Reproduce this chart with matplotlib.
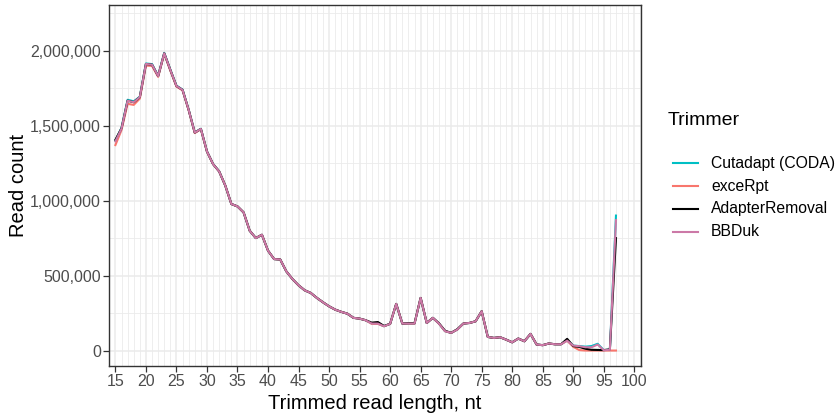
import numpy as np
import matplotlib.pyplot as plt
from matplotlib.lines import Line2D

# read length (nt)
lengths = list(range(15, 98))

# read counts in thousands, one list per trimmer (15..97 nt)
cutadapt = [1400, 1485, 1672, 1662, 1692, 1914, 1910, 1832, 1985, 1873,
            1766, 1740, 1606, 1454, 1479, 1328, 1244, 1195, 1100, 977,
            961, 921, 799, 750, 772, 666, 610, 607, 528, 477,
            435, 402, 384, 351, 322, 295, 273, 258, 246, 218,
            213, 202, 180, 180, 162, 178, 311, 180, 180, 180,
            351, 184, 218, 180, 129, 118, 140, 180, 184, 195,
            262, 91, 84, 89, 73, 55, 80, 62, 111, 40,
            36, 47, 42, 42, 68, 33, 30, 26, 30, 45,
            3, 6, 900]
excerpt = [1370, 1470, 1645, 1638, 1680, 1900, 1898, 1825, 1978, 1866,
           1760, 1735, 1603, 1450, 1476, 1326, 1243, 1194, 1100, 977,
           961, 921, 799, 750, 772, 666, 610, 607, 528, 477,
           435, 402, 384, 351, 322, 295, 273, 258, 246, 218,
           213, 202, 178, 178, 162, 178, 311, 180, 180, 180,
           351, 184, 218, 180, 129, 118, 140, 180, 184, 195,
           262, 91, 84, 89, 73, 55, 80, 62, 111, 40,
           36, 47, 42, 42, 66, 25, 3, 0, 0, 0,
           0, 0, 0]
adapterremoval = [1405, 1482, 1666, 1656, 1690, 1911, 1906, 1830, 1982, 1871,
                  1764, 1738, 1605, 1453, 1478, 1327, 1243, 1194, 1100, 977,
                  961, 921, 799, 750, 772, 666, 610, 607, 528, 477,
                  435, 402, 384, 351, 322, 295, 273, 258, 246, 218,
                  213, 202, 186, 190, 164, 178, 311, 180, 182, 182,
                  351, 184, 218, 182, 132, 118, 142, 180, 184, 195,
                  262, 91, 84, 89, 73, 55, 80, 62, 111, 40,
                  36, 47, 42, 42, 78, 30, 24, 12, 5, 4,
                  3, 8, 750]
bbduk = [1395, 1480, 1666, 1656, 1690, 1911, 1906, 1830, 1982, 1871,
         1764, 1738, 1605, 1453, 1478, 1327, 1243, 1194, 1100, 977,
         961, 921, 799, 750, 772, 666, 610, 607, 528, 477,
         435, 402, 384, 351, 322, 295, 273, 258, 246, 218,
         213, 202, 180, 180, 162, 178, 311, 180, 180, 180,
         351, 184, 218, 180, 129, 118, 140, 180, 184, 195,
         262, 91, 84, 89, 73, 55, 80, 62, 111, 40,
         36, 47, 42, 42, 66, 33, 29, 22, 22, 40,
         2, 5, 870]

trimmers = ['Cutadapt (CODA)', 'exceRpt', 'AdapterRemoval', 'BBDuk']
series = [cutadapt, excerpt, adapterremoval, bbduk]
colors = ['#00BFC4', '#F8766D', '#000000', '#CC79A7']

plt.rcParams['font.family'] = ['Liberation Sans', 'DejaVu Sans']

fig = plt.figure(figsize=(8.36, 4.15), dpi=100)
W, H = 836, 415
# panel in pixels: left 109, right 641, top 5, bottom 366
ax = fig.add_axes([109.3 / W, 1 - 366 / H, (640.7 - 109.3) / W, (366 - 4.7) / H])

for name, vals, col in zip(trimmers, series, colors):
    ax.plot(lengths, np.array(vals) * 1000, color=col, lw=1.5, label=name,
            solid_joinstyle='round', zorder=3)

ax.set_xlim(14.02, 101.05)
ax.set_ylim(-103000, 2306000)

# grid like theme_bw
ax.set_xticks(range(15, 101, 5))
ax.set_xticks(range(14, 102), minor=True)
ax.set_yticks([0, 500000, 1000000, 1500000, 2000000])
ax.set_yticks([250000, 750000, 1250000, 1750000, 2250000], minor=True)
ax.grid(which='major', color='#EBEBEB', lw=1.1, zorder=0)
ax.grid(which='minor', color='#EBEBEB', lw=0.6, zorder=0)
ax.set_axisbelow(True)
ax.set_yticklabels(['0', '500,000', '1,000,000', '1,500,000', '2,000,000'])
ax.tick_params(which='minor', length=0)
ax.tick_params(which='major', length=4, width=0.9, color='#333333',
               labelcolor='#4D4D4D', labelsize=11.5, pad=2)
for sp in ax.spines.values():
    sp.set_color('#333333')
    sp.set_linewidth(1.0)

ax.set_xlabel('Trimmed read length, nt', fontsize=14.5, labelpad=3)
ax.set_ylabel('Read count', fontsize=14.5, labelpad=1.7)

# legend drawn by hand
fig.text(668 / W, 1 - 120.5 / H, 'Trimmer', fontsize=14, va='center', ha='left')
for i, (name, col) in enumerate(zip(trimmers, colors)):
    y = 1 - (163.3 + i * 22.8) / H
    fig.add_artist(Line2D([673 / W, 697.5 / W], [y, y], color=col, lw=1.5))
    fig.text(711 / W, y, name, fontsize=11.3, va='center', ha='left')

plt.savefig('out.png', dpi=100)
plt.close()
